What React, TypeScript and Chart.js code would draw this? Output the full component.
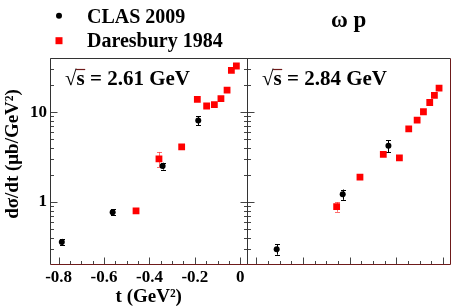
import React, { useEffect, useRef } from "react";
import { Chart, registerables } from "chart.js";
Chart.register(...registerables);

const W = 457;
const H = 307;
const FONT = '"Liberation Serif", "Times New Roman", serif';

// axis ranges and ticks
const tMin = -0.838;
const tMax = 0.032;
const yMin = 0.205;
const yMax = 40;
const xMajorTicks = [-0.8, -0.6, -0.4, -0.2, 0];
const xTickLabels = ["-0.8", "-0.6", "-0.4", "-0.2", "0"];
const yMajorTicks = [1, 10];
const yTickLabels = ["1", "10"];

// texts
const legendLabels = ["CLAS 2009", "Daresbury 1984"];
const panelEnergies = ["2.61 GeV", "2.84 GeV"];
const reactionLabel = "ω p";
const xTitle = "t (GeV²)";
const yTitle = "dσ/dt (μb/GeV²)";

// sqrt(s) = 2.61 GeV
const clas261T = [-0.786, -0.562, -0.342, -0.185];
const clas261Y = [0.36, 0.77, 2.52, 8.07];
const clas261Err = [0.03, 0.06, 0.22, 0.9];
const dares261T = [-0.459, -0.358, -0.258, -0.189, -0.148, -0.114, -0.085, -0.058, -0.039, -0.017];
const dares261Y = [0.8, 3.02, 4.11, 13.9, 11.7, 12.1, 14.1, 17.6, 29.2, 32.6];
const dares261ErrLo = [0.04, 0.56, 0.2, 0.7, 0.5, 0.5, 0.6, 0.8, 1.4, 1.6];
const dares261ErrHi = [0.04, 0.59, 0.2, 0.7, 0.5, 0.5, 0.6, 0.8, 1.4, 1.6];

// sqrt(s) = 2.84 GeV
const clas284T = [-0.713, -0.43, -0.234];
const clas284Y = [0.3, 1.22, 4.22];
const clas284Err = [0.04, 0.16, 0.65];
const dares284T = [-0.456, -0.356, -0.256, -0.187, -0.147, -0.111, -0.084, -0.057, -0.037, -0.017];
const dares284Y = [0.89, 1.9, 3.4, 3.1, 6.53, 8.15, 10.1, 12.8, 15.4, 18.5];
const dares284ErrLo = [0.11, 0.09, 0.15, 0.15, 0.3, 0.35, 0.45, 0.55, 0.7, 0.8];
const dares284ErrHi = [0.11, 0.09, 0.15, 0.15, 0.3, 0.35, 0.45, 0.55, 0.7, 0.8];

const toPts = (xs: number[], ys: number[]) => xs.map((x, i) => ({ x, y: ys[i] }));

const errorBarPlugin = {
  id: "errorBars",
  beforeDatasetsDraw(chart: any) {
    const ctx = chart.ctx;
    const xs = chart.scales.x;
    const ys = chart.scales.y;
    ctx.save();
    chart.data.datasets.forEach((ds: any) => {
      ctx.strokeStyle = ds.errColor;
      ctx.lineWidth = 1;
      ds.data.forEach((p: any, i: number) => {
        const px = Math.round(xs.getPixelForValue(p.x)) + 0.5;
        const yh = ys.getPixelForValue(p.y + ds.errHi[i]);
        const yl = ys.getPixelForValue(p.y - ds.errLo[i]);
        ctx.beginPath();
        ctx.moveTo(px, yh);
        ctx.lineTo(px, yl);
        ctx.moveTo(px - 2.5, Math.round(yh) + 0.5);
        ctx.lineTo(px + 2.5, Math.round(yh) + 0.5);
        ctx.moveTo(px - 2.5, Math.round(yl) + 0.5);
        ctx.lineTo(px + 2.5, Math.round(yl) + 0.5);
        ctx.stroke();
      });
    });
    ctx.restore();
  },
};

function makeFramePlugin(panel: number) {
  return {
    id: "frame" + panel,
    afterDraw(chart: any) {
      const ctx = chart.ctx;
      const a = chart.chartArea;
      const xs = chart.scales.x;
      const ys = chart.scales.y;
      const L = Math.floor(a.left) + 0.5;
      const R = Math.floor(a.right) + 0.5;
      const T = Math.floor(a.top) + 0.5;
      const B = Math.floor(a.bottom) + 0.5;
      ctx.save();
      ctx.lineWidth = 1;
      // ticks
      ctx.strokeStyle = "#444";
      ctx.beginPath();
      for (let i = 0; i <= 16; i++) {
        const v = -0.8 + 0.05 * i;
        const px = Math.round(xs.getPixelForValue(v)) + 0.5;
        const len = i % 4 === 0 ? 7 : 3.5;
        ctx.moveTo(px, B);
        ctx.lineTo(px, B - len);
      }
      [0.1, 1, 10].forEach((d) => {
        for (let k = 1; k <= 9; k++) {
          const v = k * d;
          if (v < yMin || v > yMax) continue;
          const py = Math.round(ys.getPixelForValue(v)) + 0.5;
          const len = k === 1 ? 7 : 3.5;
          ctx.moveTo(L, py);
          ctx.lineTo(L + len, py);
          if (panel === 0) {
            ctx.moveTo(R, py);
            ctx.lineTo(R - len, py);
          }
        }
      });
      ctx.stroke();
      // frame
      ctx.strokeStyle = "#333";
      ctx.beginPath();
      ctx.moveTo(L, B);
      ctx.lineTo(L, T);
      ctx.lineTo(R, T);
      ctx.stroke();
      ctx.strokeStyle = "#6e1a1a";
      ctx.beginPath();
      ctx.moveTo(L, B);
      ctx.lineTo(R, B);
      ctx.lineTo(R, T);
      ctx.stroke();

      // panel energy label with sqrt(s)
      ctx.fillStyle = "#000";
      ctx.font = `bold 21px ${FONT}`;
      ctx.textBaseline = "alphabetic";
      ctx.textAlign = "left";
      const x0 = panel === 0 ? 65 : 262;
      const yb = 85;
      const root = "√";
      const rw = ctx.measureText(root).width;
      ctx.fillText(root, x0, yb);
      ctx.fillText("s", x0 + rw, yb);
      const sw = ctx.measureText("s").width;
      ctx.fillText(" = " + panelEnergies[panel], x0 + rw + sw, yb);
      ctx.beginPath();
      ctx.lineWidth = 1.2;
      ctx.moveTo(x0 + rw - 0.5, yb - 15.5);
      ctx.lineTo(x0 + rw + sw + 0.5, yb - 15.5);
      ctx.stroke();

      if (panel === 0) {
        // legend
        ctx.beginPath();
        ctx.arc(59, 15.7, 3, 0, Math.PI * 2);
        ctx.fill();
        ctx.fillStyle = "#ff0000";
        ctx.fillRect(55.5, 37.2, 7, 7);
        ctx.fillStyle = "#000";
        ctx.font = `bold 20px ${FONT}`;
        ctx.fillText(legendLabels[0], 87, 22.5);
        ctx.fillText(legendLabels[1], 87, 46.5);
        // reaction
        ctx.font = `bold 23px ${FONT}`;
        ctx.fillText(reactionLabel, 331, 26.5);
        // x title
        ctx.font = `bold 19px ${FONT}`;
        ctx.textAlign = "center";
        ctx.fillText(xTitle, (a.left + a.right) / 2, 302);
        // y title
        ctx.translate(18, 154);
        ctx.rotate(-Math.PI / 2);
        ctx.fillText(yTitle, 0, 0);
      }
      ctx.restore();
    },
  };
}

function makeConfig(panel: number): any {
  const clasT = panel === 0 ? clas261T : clas284T;
  const clasY = panel === 0 ? clas261Y : clas284Y;
  const clasE = panel === 0 ? clas261Err : clas284Err;
  const darT = panel === 0 ? dares261T : dares284T;
  const darY = panel === 0 ? dares261Y : dares284Y;
  const darLo = panel === 0 ? dares261ErrLo : dares284ErrLo;
  const darHi = panel === 0 ? dares261ErrHi : dares284ErrHi;
  const chartLeft = panel === 0 ? 50 : 247.5;
  const chartRight = panel === 0 ? 247.5 : 450.5;
  return {
    type: "scatter",
    data: {
      datasets: [
        {
          label: legendLabels[1],
          data: toPts(darT, darY),
          pointStyle: "rect",
          pointRadius: 4.8,
          pointBackgroundColor: "#ff0000",
          pointBorderWidth: 0,
          errLo: darLo,
          errHi: darHi,
          errColor: "rgba(255,60,60,0.75)",
        },
        {
          label: legendLabels[0],
          data: toPts(clasT, clasY),
          pointStyle: "circle",
          pointRadius: 3,
          pointBackgroundColor: "#000",
          pointBorderWidth: 0,
          errLo: clasE,
          errHi: clasE,
          errColor: "#000",
        },
      ],
    },
    options: {
      responsive: false,
      animation: false,
      events: [],
      layout: { padding: { top: 58, left: 0, right: W - chartRight, bottom: 0 } },
      plugins: { legend: { display: false }, tooltip: { enabled: false } },
      scales: {
        x: {
          type: "linear",
          min: tMin,
          max: tMax,
          grid: { display: false, drawTicks: false },
          border: { display: false },
          afterBuildTicks: (s: any) => {
            s.ticks = xMajorTicks.map((v) => ({ value: v }));
          },
          afterFit: (s: any) => {
            s.height = H - 264;
          },
          ticks: {
            display: panel === 0,
            padding: 3,
            maxRotation: 0,
            autoSkip: false,
            color: "#000",
            font: { family: FONT, size: 17, weight: "bold" },
            callback: (v: number) => {
              const i = xMajorTicks.findIndex((m) => Math.abs(m - v) < 1e-9);
              return i >= 0 ? xTickLabels[i] : "";
            },
          },
        },
        y: {
          type: "logarithmic",
          min: yMin,
          max: yMax,
          grid: { display: false, drawTicks: false },
          border: { display: false },
          afterBuildTicks: (s: any) => {
            s.ticks = yMajorTicks.map((v) => ({ value: v }));
          },
          afterFit: (s: any) => {
            s.width = chartLeft;
          },
          ticks: {
            display: panel === 0,
            padding: 3,
            autoSkip: false,
            color: "#000",
            font: { family: FONT, size: 17, weight: "bold" },
            callback: (v: number) => {
              const i = yMajorTicks.findIndex((m) => Math.abs(m - v) < 1e-9);
              return i >= 0 ? yTickLabels[i] : "";
            },
          },
        },
      },
    },
    plugins: [errorBarPlugin, makeFramePlugin(panel)],
  };
}

export default function App() {
  const leftRef = useRef<HTMLCanvasElement>(null);
  const rightRef = useRef<HTMLCanvasElement>(null);
  useEffect(() => {
    const c1 = new Chart(leftRef.current as HTMLCanvasElement, makeConfig(0));
    const c2 = new Chart(rightRef.current as HTMLCanvasElement, makeConfig(1));
    return () => {
      c1.destroy();
      c2.destroy();
    };
  }, []);
  const cs: React.CSSProperties = { position: "absolute", left: 0, top: 0, width: W, height: H };
  return (
    <div style={{ position: "fixed", left: 0, top: 0, width: W, height: H, background: "#fff" }}>
      <canvas ref={leftRef} width={W} height={H} style={cs} />
      <canvas ref={rightRef} width={W} height={H} style={cs} />
    </div>
  );
}
